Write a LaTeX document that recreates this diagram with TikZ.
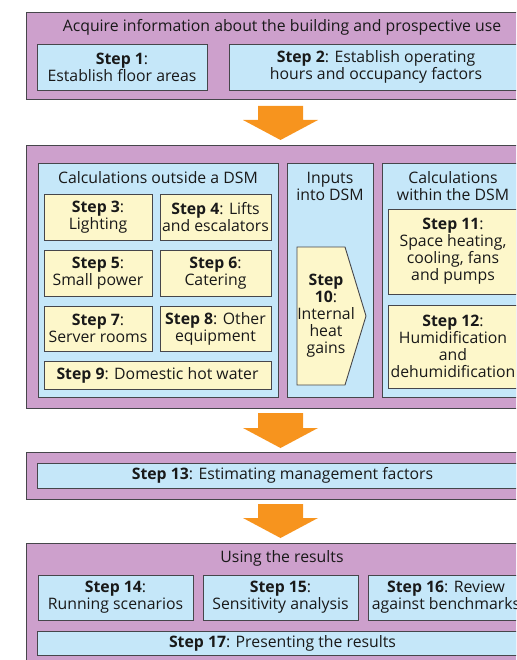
\documentclass[tikz,border=0pt]{standalone}
\usepackage{fontspec}
\setmainfont{Open Sans}
\definecolor{purp}{RGB}{205,160,204}
\definecolor{lblue}{RGB}{197,231,249}
\definecolor{lyel}{RGB}{253,247,202}
\definecolor{orng}{RGB}{247,148,30}
\definecolor{edge}{RGB}{70,70,75}
\tikzset{
  panel/.style={fill=purp, draw=edge, line width=1pt},
  bluebox/.style={fill=lblue, draw=edge, line width=0.9pt},
  yelbox/.style={fill=lyel, draw=edge, line width=0.9pt},
  txt/.style={align=center, inner sep=0pt, font=\fontsize{15.8}{17}\selectfont, text=black!90},
  bigarrow/.style={fill=orng, draw=none}
}
\newcommand{\boxat}[6]{% style, name, x1, y1, x2, y2
  \draw[#1] (#3,#4) rectangle (#5,#6);
  \coordinate (#2) at ({(#3+#5)/2},{(#4+#6)/2});}
\newcommand{\flowarrow}[3]{% name, top y, tip y
  \coordinate (#1) at (280.5,#2);
  \fill[bigarrow] (258,#2) -- (303,#2) -- (303,{#3-20}) -- (318,{#3-20}) -- (280.5,#3) -- (243,{#3-20}) -- (258,{#3-20}) -- cycle;}
\begin{document}
\begin{tikzpicture}[x=1pt,y=-1pt]
\useasboundingbox (0,0) rectangle (516,660);
\clip (0,0) rectangle (516,660);
% block 1
\boxat{panel}{p1}{26}{13}{539}{100}
\node[txt] (t1) at (282,27.5) {Acquire information about the building and prospective use};
\boxat{bluebox}{b1}{37}{44}{207}{90}
\node[txt] (s1) at (b1) {\textbf{Step 1}:\\Establish floor areas};
\boxat{bluebox}{b2}{229}{44}{523}{90}
\node[txt] (s2) at (b2) {\textbf{Step 2}: Establish operating\\hours and occupancy factors};
% arrow 1
\flowarrow{a1}{106}{140}
% block 2
\boxat{panel}{p2}{26}{146}{539}{408}
\boxat{bluebox}{c1}{38}{163}{278}{397}
\node[txt] (t2) at (158,178) {Calculations outside a DSM};
\boxat{yelbox}{b3}{44}{194}{152}{240}
\node[txt] (s3) at (b3) {\textbf{Step 3}:\\Lighting};
\boxat{yelbox}{b4}{160}{194}{271}{240}
\node[txt] (s4) at (b4) {\textbf{Step 4}: Lifts\\and escalators};
\boxat{yelbox}{b5}{44}{250}{152}{296}
\node[txt] (s5) at (b5) {\textbf{Step 5}:\\Small power};
\boxat{yelbox}{b6}{160}{250}{271}{296}
\node[txt] (s6) at (b6) {\textbf{Step 6}:\\Catering};
\boxat{yelbox}{b7}{44}{306}{152}{351}
\node[txt] (s7) at (b7) {\textbf{Step 7}:\\Server rooms};
\boxat{yelbox}{b8}{160}{306}{271}{351}
\node[txt] (s8) at (b8) {\textbf{Step 8}: Other\\equipment};
\boxat{yelbox}{b9}{44}{361}{271}{389}
\node[txt] (s9) at (b9) {\textbf{Step 9}: Domestic hot water};
\boxat{bluebox}{c2}{287}{163}{373}{397}
\node[txt] (t3) at (330,186.5) {Inputs\\into DSM};
\draw[yelbox] (297,247) -- (345,247) -- (366,316) -- (345,385) -- (297,385) -- cycle;
\node[txt] (s10) at (326,316) {\textbf{Step}\\\textbf{10}:\\Internal\\heat\\gains};
\boxat{bluebox}{c3}{382}{163}{524}{397}
\node[txt] (t4) at (453,186.5) {Calculations\\within the DSM};
\boxat{yelbox}{b11}{388}{209}{518}{294}
\node[txt] (s11) at (b11) {\textbf{Step 11}:\\Space heating,\\cooling, fans\\and pumps};
\boxat{yelbox}{b12}{388}{305}{518}{388}
\node[txt] (s12) at (b12) {\textbf{Step 12}:\\Humidification\\and\\dehumidification};
% arrow 2
\flowarrow{a2}{413}{448}
% block 3
\boxat{panel}{p3}{26}{452}{539}{499}
\boxat{bluebox}{b13}{37}{463}{528}{488}
\node[txt] (s13) at (b13) {\textbf{Step 13}: Estimating management factors};
% arrow 3
\flowarrow{a3}{504}{538}
% block 4
\boxat{panel}{p4}{26}{543}{539}{668}
\node[txt] (t5) at (282,558) {Using the results};
\boxat{bluebox}{b14}{38}{575}{193}{620}
\node[txt] (s14) at (b14) {\textbf{Step 14}:\\Running scenarios};
\boxat{bluebox}{b15}{203}{575}{358}{620}
\node[txt] (s15) at (b15) {\textbf{Step 15}:\\Sensitivity analysis};
\boxat{bluebox}{b16}{368}{575}{524}{620}
\node[txt] (s16) at (b16) {\textbf{Step 16}: Review\\against benchmarks};
\boxat{bluebox}{b17}{37}{631}{528}{655}
\node[txt] (s17) at (b17) {\textbf{Step 17}: Presenting the results};
\end{tikzpicture}
\end{document}
